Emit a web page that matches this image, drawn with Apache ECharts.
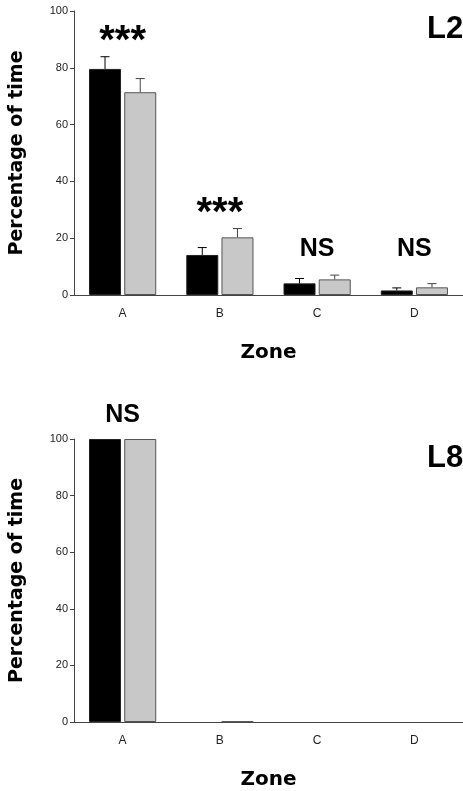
<!DOCTYPE html>
<html>
<head>
<meta charset="utf-8">
<script src="https://cdn.jsdelivr.net/npm/echarts@6/dist/echarts.min.js"></script>
<style>
  html, body { margin: 0; padding: 0; background: #fff; }
  #chart { width: 463px; height: 791px; }
</style>
</head>
<body>
<div id="chart"></div>
<script>
const zones = ['A', 'B', 'C', 'D']
const yTicks = [0, 20, 40, 60, 80, 100]

// panel L2
const l2Black = [79.6, 14.1, 4.1, 1.6]
const l2BlackErr = [4.3, 2.6, 1.7, 0.9]
const l2Gray = [71.4, 20.3, 5.5, 2.7]
const l2GrayErr = [4.8, 3.1, 1.5, 1.3]
const l2Sig = ['***', '***', 'NS', 'NS']
const l2SigY = [89, 28.5, 16.3, 16.3]

// panel L8
const l8Black = [100, 0, 0, 0]
const l8Gray = [100, 0.2, 0, 0]
const l8Sig = ['NS', '', '', '']
const l8SigY = [108.5, 0, 0, 0]

const BAR_W = 32
const BAR_GAP = 0.1
const AXIS_COLOR = '#444'
const LABEL_FONT = 'Liberation Sans, Arial, sans-serif'
const HEAVY_FONT = 'DejaVu Sans, sans-serif'

const chart = echarts.init(document.getElementById('chart'))

function xAxisFor(gridIndex) {
  return {
    type: 'category', gridIndex, data: zones,
    name: 'Zone', nameLocation: 'middle', nameGap: 48,
    nameTextStyle: { fontFamily: HEAVY_FONT, fontWeight: 'bold', fontSize: 20, color: '#000' },
    axisLine: { lineStyle: { color: AXIS_COLOR, width: 1 } },
    axisTick: { alignWithLabel: true, length: 4, lineStyle: { color: AXIS_COLOR } },
    axisLabel: { fontFamily: LABEL_FONT, fontSize: 12, color: '#222', margin: 13 }
  }
}

function yAxisFor(gridIndex) {
  return {
    type: 'value', gridIndex, min: 0, max: 100, interval: 20,
    name: 'Percentage of time', nameLocation: 'middle', nameGap: 47,
    nameTextStyle: { fontFamily: HEAVY_FONT, fontWeight: 'bold', fontSize: 19, color: '#000' },
    axisLine: { show: true, lineStyle: { color: AXIS_COLOR, width: 1 } },
    axisTick: { show: true, inside: false, length: 4, lineStyle: { color: AXIS_COLOR } },
    axisLabel: { fontFamily: LABEL_FONT, fontSize: 11, color: '#222', margin: 6,
      formatter: v => yTicks.includes(v) ? String(v) : '' },
    splitLine: { show: false }
  }
}

function barSeries(idx, data, color, border) {
  return {
    type: 'bar', xAxisIndex: idx, yAxisIndex: idx,
    // zero-height bars get no outline so they leave no trace on the axis
    data: data.map(v => v === 0 ? { value: v, itemStyle: { borderWidth: 0 } } : v),
    barWidth: BAR_W, barGap: (BAR_GAP * 100) + '%',
    itemStyle: { color, borderColor: border, borderWidth: 1 },
    emphasis: { disabled: true }, silent: true
  }
}

// upper error bars, drawn at the centre of the matching bar
function errorSeries(idx, means, errs, side, color) {
  return {
    type: 'custom', xAxisIndex: idx, yAxisIndex: idx, silent: true, z: 5,
    data: means.map((m, i) => [i, m, m + errs[i]]),
    renderItem: (params, api) => {
      const off = side * (BAR_W * (1 + BAR_GAP)) / 2
      const base = api.coord([api.value(0), api.value(1)])
      const top = api.coord([api.value(0), api.value(2)])
      const x = base[0] + off
      const cap = 4.5
      return {
        type: 'group',
        children: [
          { type: 'line', shape: { x1: x, y1: base[1], x2: x, y2: top[1] }, style: { stroke: color, lineWidth: 1 } },
          { type: 'line', shape: { x1: x - cap, y1: top[1], x2: x + cap, y2: top[1] }, style: { stroke: color, lineWidth: 1 } }
        ]
      }
    }
  }
}

function sigLabel(idx, labels, ys) {
  return {
    type: 'scatter', xAxisIndex: idx, yAxisIndex: idx, symbolSize: 0, clip: false, silent: true,
    itemStyle: { opacity: 1 },
    data: labels.map((t, i) => ({
      value: [i, ys[i]], name: t,
      label: { fontSize: t === '***' ? 40 : 25 }
    })).filter(d => d.name),
    label: {
      show: true, position: 'inside', formatter: p => p.name,
      fontFamily: LABEL_FONT, fontWeight: 'bold', color: '#000', opacity: 1
    }
  }
}

chart.setOption({
  animation: false,
  grid: [
    { left: 74, top: 11, width: 396, height: 284 },
    { left: 70.5, top: 439, width: 396, height: 284 }
  ],
  xAxis: [xAxisFor(0), xAxisFor(1)],
  yAxis: [yAxisFor(0), yAxisFor(1)],
  graphic: [
    { type: 'text', x: 427, y: 29, style: { text: 'L2', fontFamily: LABEL_FONT, fontWeight: 'bold', fontSize: 31, fill: '#000', verticalAlign: 'middle' } },
    { type: 'text', x: 427, y: 458, style: { text: 'L8', fontFamily: LABEL_FONT, fontWeight: 'bold', fontSize: 31, fill: '#000', verticalAlign: 'middle' } }
  ],
  series: [
    barSeries(0, l2Black, '#000', '#222'),
    barSeries(0, l2Gray, '#c8c8c8', '#555'),
    errorSeries(0, l2Black, l2BlackErr, -1, '#000'),
    errorSeries(0, l2Gray, l2GrayErr, 1, '#444'),
    sigLabel(0, l2Sig, l2SigY),
    barSeries(1, l8Black, '#000', '#222'),
    barSeries(1, l8Gray, '#c8c8c8', '#555'),
    sigLabel(1, l8Sig, l8SigY)
  ]
})
</script>
</body>
</html>
